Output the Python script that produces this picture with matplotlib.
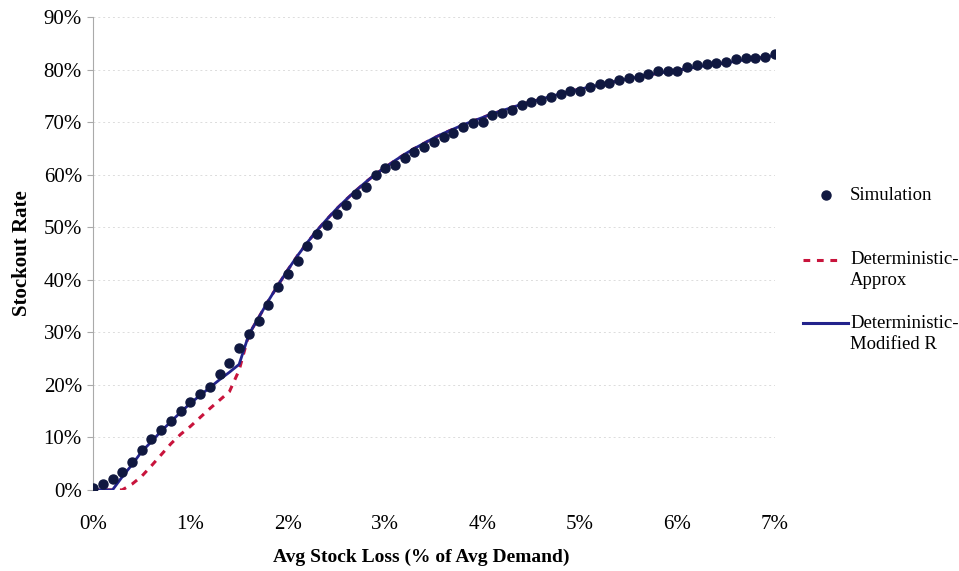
import matplotlib
matplotlib.use("Agg")
import matplotlib.pyplot as plt
from matplotlib.lines import Line2D
from matplotlib.ticker import PercentFormatter

# x positions: avg stock loss, % of avg demand, every 0.1%
loss_pct = [round(i * 0.1, 1) for i in range(71)]

sim_rate = [
    0.4, 1.1, 2.1, 3.5, 5.3, 7.6, 9.6, 11.5, 13.2, 15.0,
    16.7, 18.2, 19.6, 22.1, 24.1, 27.0, 29.6, 32.2, 35.2, 38.6,
    41.1, 43.5, 46.4, 48.8, 50.4, 52.6, 54.2, 56.4, 57.7, 60.0,
    61.2, 61.8, 63.1, 64.3, 65.2, 66.2, 67.2, 67.9, 69.1, 69.8,
    70.0, 71.3, 71.8, 72.4, 73.2, 73.8, 74.3, 74.8, 75.4, 76.0,
    75.9, 76.7, 77.2, 77.5, 78.1, 78.4, 78.6, 79.2, 79.7, 79.8,
    79.8, 80.5, 80.8, 81.0, 81.3, 81.4, 82.1, 82.3, 82.3, 82.5,
    82.9,
]

modified_r = [
    0.0, 0.0, 0.0, 2.5, 4.8, 7.3, 9.2, 11.2, 13.0, 14.8,
    16.5, 18.0, 19.5, 21.0, 22.4, 23.9, 29.6, 32.8, 36.0, 39.0,
    41.9, 44.6, 47.1, 49.4, 51.5, 53.5, 55.3, 57.0, 58.6, 60.1,
    61.4, 62.7, 63.9, 65.0, 66.0, 67.0, 67.9, 68.7, 69.5, 70.2,
    70.9, 71.6, 72.2, 72.8, 73.4, 73.9, 74.4, 74.9, 75.4, 75.9,
    76.3, 76.7, 77.1, 77.5, 77.9, 78.3, 78.6, 79.0, 79.3, 79.6,
    79.9, 80.2, 80.5, 80.8, 81.1, 81.3, 81.6, 81.9, 82.1, 82.4,
    82.7,
]

approx = [
    0.0, 0.0, 0.0, 0.0, 1.1, 2.6, 4.6, 6.7, 8.8, 10.6,
    12.1, 13.8, 15.5, 17.1, 18.7, 22.8, 29.6, 32.8, 36.0, 39.0,
    41.9, 44.6, 47.1, 49.4, 51.5, 53.5, 55.3, 57.0, 58.6, 60.1,
    61.4, 62.7, 63.9, 65.0, 66.0, 67.0, 67.9, 68.7, 69.5, 70.2,
    70.9, 71.6, 72.2, 72.8, 73.4, 73.9, 74.4, 74.9, 75.4, 75.9,
    76.3, 76.7, 77.1, 77.5, 77.9, 78.3, 78.6, 79.0, 79.3, 79.6,
    79.9, 80.2, 80.5, 80.8, 81.1, 81.3, 81.6, 81.9, 82.1, 82.4,
    82.7,
]

x_ticks = [0, 1, 2, 3, 4, 5, 6, 7]
y_ticks = [0, 10, 20, 30, 40, 50, 60, 70, 80, 90]

RED = "#c8143c"
BLUE = "#23238c"
DOT = "#101840"
DASH = (0, (2.2, 2.2))

plt.rcParams["font.family"] = ["Liberation Serif", "DejaVu Serif"]

fig = plt.figure(figsize=(9.59, 5.71), dpi=100)
ax = fig.add_axes([0.097, 0.142, 0.711, 0.828])

ax.plot(loss_pct, approx, color=RED, linestyle=DASH, linewidth=2.2, zorder=2)
ax.plot(loss_pct, modified_r, color=BLUE, linewidth=2.0, zorder=3)
ax.plot(loss_pct, sim_rate, linestyle="none", marker="o", markersize=6.5,
        color=DOT, zorder=4)

ax.set_xlim(0, 7)
ax.set_ylim(0, 90)
ax.set_xticks(x_ticks)
ax.set_yticks(y_ticks)
ax.xaxis.set_major_formatter(PercentFormatter(decimals=0))
ax.yaxis.set_major_formatter(PercentFormatter(decimals=0))
ax.tick_params(axis="x", length=0, pad=18, labelsize=15)
ax.tick_params(axis="y", length=4, color="#aaaaaa", pad=4, labelsize=15)

ax.grid(axis="y", color="#dcdcdc", linestyle=(0, (2, 3)), linewidth=0.7)
ax.set_axisbelow(True)
for side in ["top", "right", "bottom"]:
    ax.spines[side].set_visible(False)
ax.spines["left"].set_color("#aaaaaa")

ax.set_xlabel("Avg Stock Loss (% of Avg Demand)", fontsize=14, fontweight="bold")
ax.xaxis.set_label_coords(0.481, -0.124)
ax.set_ylabel("Stockout Rate", fontsize=15, fontweight="bold", labelpad=8)

# legend drawn by hand so the handles sit on the first text line
W, H = 959, 571
fig.add_artist(Line2D([826 / W], [1 - 195 / H], transform=fig.transFigure,
                      marker="o", markersize=6.5, color=DOT, linestyle="none"))
fig.add_artist(Line2D([803 / W, 840 / W], [1 - 260 / H] * 2, transform=fig.transFigure,
                      color=RED, linestyle=DASH, linewidth=2.2))
fig.add_artist(Line2D([803 / W, 848 / W], [1 - 323 / H] * 2, transform=fig.transFigure,
                      color=BLUE, linewidth=2.2))
fig.text(850 / W, 1 - 195 / H, "Simulation", fontsize=13.5, va="center", ha="left")
fig.text(850 / W, 1 - 270 / H, "Deterministic-\nApprox", fontsize=13.5, va="center",
         ha="left", linespacing=1.3)
fig.text(850 / W, 1 - 334 / H, "Deterministic-\nModified R", fontsize=13.5, va="center",
         ha="left", linespacing=1.3)

fig.savefig("out.png", dpi=100)
